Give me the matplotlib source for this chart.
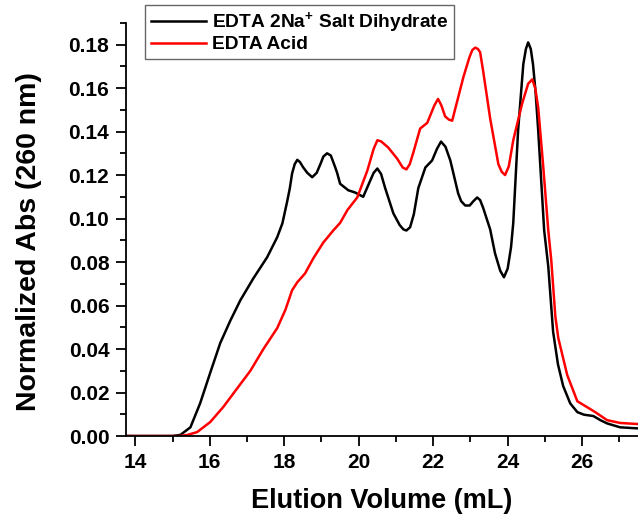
"""
SEC elution profiles: EDTA disodium salt dihydrate vs EDTA acid
(normalized absorbance at 260 nm vs elution volume)
"""

import matplotlib
matplotlib.use("Agg")
import matplotlib.pyplot as plt
from matplotlib.ticker import MultipleLocator

plt.rcParams['font.family'] = ['Liberation Sans', 'DejaVu Sans']
plt.rcParams['font.weight'] = 'bold'
plt.rcParams['mathtext.fontset'] = 'custom'
plt.rcParams['mathtext.rm'] = 'Liberation Sans:bold'
plt.rcParams['mathtext.bf'] = 'Liberation Sans:bold'

# =============================================================================
# data
# =============================================================================

salt_vol = [13.75, 15.0, 15.21, 15.48, 15.74, 16.01, 16.28, 16.55, 16.82, 17.17,
            17.54, 17.81, 17.95, 18.08, 18.15, 18.21, 18.28, 18.35, 18.42, 18.51,
            18.62, 18.75, 18.87, 18.97, 19.05, 19.15, 19.25, 19.37, 19.42, 19.5,
            19.72, 19.9, 20.12, 20.31, 20.4, 20.5, 20.6, 20.71, 20.93, 21.1,
            21.2, 21.28, 21.38, 21.48, 21.6, 21.79, 21.97, 22.1, 22.21, 22.33,
            22.46, 22.67, 22.75, 22.86, 22.98, 23.08, 23.18, 23.26, 23.34, 23.53,
            23.66, 23.8, 23.9, 24.0, 24.09, 24.15, 24.28, 24.36, 24.42, 24.49,
            24.55, 24.62, 24.68, 24.75, 24.82, 24.98, 25.09, 25.22, 25.35, 25.49,
            25.68, 25.87, 26.05, 26.3, 26.5, 26.67, 27.02, 27.5]
salt_abs = [0.0, 0.0, 0.0005, 0.004, 0.015, 0.029, 0.0427, 0.053, 0.0624, 0.0725,
            0.0822, 0.0914, 0.0978, 0.108, 0.114, 0.1207, 0.125, 0.127, 0.126, 0.1235,
            0.121, 0.119, 0.121, 0.125, 0.1285, 0.130, 0.129, 0.1235, 0.121, 0.116,
            0.113, 0.112, 0.110, 0.1175, 0.121, 0.123, 0.1205, 0.114, 0.1024, 0.097,
            0.095, 0.0945, 0.096, 0.102, 0.114, 0.1235, 0.1267, 0.132, 0.1354, 0.133,
            0.1267, 0.1116, 0.108, 0.106, 0.106, 0.108, 0.1097, 0.1085, 0.105, 0.095,
            0.084, 0.076, 0.073, 0.077, 0.0868, 0.098, 0.1405, 0.158, 0.171, 0.178,
            0.181, 0.178, 0.171, 0.158, 0.1405, 0.0946, 0.078, 0.048, 0.033, 0.023,
            0.015, 0.011, 0.0098, 0.0092, 0.0072, 0.0058, 0.004, 0.0035]

acid_vol = [13.75, 15.2, 15.40, 15.66, 16.01, 16.36, 16.74, 17.09, 17.44, 17.81,
            18.03, 18.21, 18.35, 18.56, 18.78, 19.05, 19.32, 19.5, 19.7, 19.96,
            20.23, 20.4, 20.5, 20.6, 20.79, 21.03, 21.18, 21.28, 21.37, 21.46,
            21.65, 21.84, 22.03, 22.13, 22.22, 22.32, 22.42, 22.51, 22.81, 22.97,
            23.05, 23.13, 23.2, 23.26, 23.34, 23.53, 23.75, 23.84, 23.93, 24.03,
            24.15, 24.39, 24.55, 24.66, 24.74, 24.82, 24.95, 25.09, 25.17, 25.28,
            25.36, 25.6, 25.87, 26.13, 26.35, 26.67, 27.02, 27.5]
acid_abs = [0.0, 0.0, 0.0005, 0.0018, 0.0064, 0.0133, 0.022, 0.030, 0.040, 0.0496,
            0.058, 0.067, 0.0707, 0.0748, 0.0817, 0.089, 0.0946, 0.098, 0.104, 0.1097,
            0.122, 0.132, 0.136, 0.1355, 0.1327, 0.1276, 0.1235, 0.1226, 0.125, 0.130,
            0.1414, 0.144, 0.152, 0.155, 0.152, 0.147, 0.1455, 0.145, 0.165, 0.174,
            0.1775, 0.1786, 0.178, 0.1765, 0.168, 0.146, 0.125, 0.1215, 0.120, 0.124,
            0.136, 0.153, 0.162, 0.164, 0.160, 0.151, 0.125, 0.0946, 0.081, 0.055,
            0.045, 0.028, 0.016, 0.0133, 0.011, 0.0073, 0.006, 0.0055]

SALT_LABEL = r'EDTA 2Na$^{+}$ Salt Dihydrate'
ACID_LABEL = 'EDTA Acid'

# =============================================================================
# plot
# =============================================================================

fig = plt.figure(figsize=(6.38, 5.25), dpi=100)
ax = fig.add_axes([0.1975, 0.1695, 0.8025, 0.787])

ax.plot(salt_vol, salt_abs, color='black', linewidth=1.8, label=SALT_LABEL)
ax.plot(acid_vol, acid_abs, color='#ff0000', linewidth=1.8, label=ACID_LABEL)

ax.set_xlim(13.75, 27.5)
ax.set_ylim(0, 0.19)
ax.xaxis.set_major_locator(MultipleLocator(2))
ax.xaxis.set_minor_locator(MultipleLocator(1))
ax.yaxis.set_major_locator(MultipleLocator(0.02))
ax.yaxis.set_minor_locator(MultipleLocator(0.01))
ax.yaxis.set_major_formatter(plt.FormatStrFormatter('%.2f'))

for side in ['top', 'right']:
    ax.spines[side].set_visible(False)
for side in ['left', 'bottom']:
    ax.spines[side].set_linewidth(1.3)

ax.tick_params(which='major', direction='out', length=7, width=1.3,
               labelsize=15, pad=5)
ax.tick_params(which='minor', direction='out', length=4, width=1.3)

ax.set_xlabel('Elution Volume (mL)', fontsize=19.5, fontweight='bold', labelpad=12)
ax.set_ylabel('Normalized Abs (260 nm)', fontsize=20.5, fontweight='bold')
ax.yaxis.set_label_coords(-0.165, 0.47)

leg = ax.legend(loc='upper left', bbox_to_anchor=(0.037, 1.044), fontsize=13.8,
                frameon=True, fancybox=False, handlelength=2.9,
                handletextpad=0.3, borderpad=0.3, labelspacing=0.05,
                borderaxespad=0.0)
leg.get_frame().set_edgecolor('#404040')
leg.get_frame().set_linewidth(1.0)

fig.savefig('out.png', dpi=100)
